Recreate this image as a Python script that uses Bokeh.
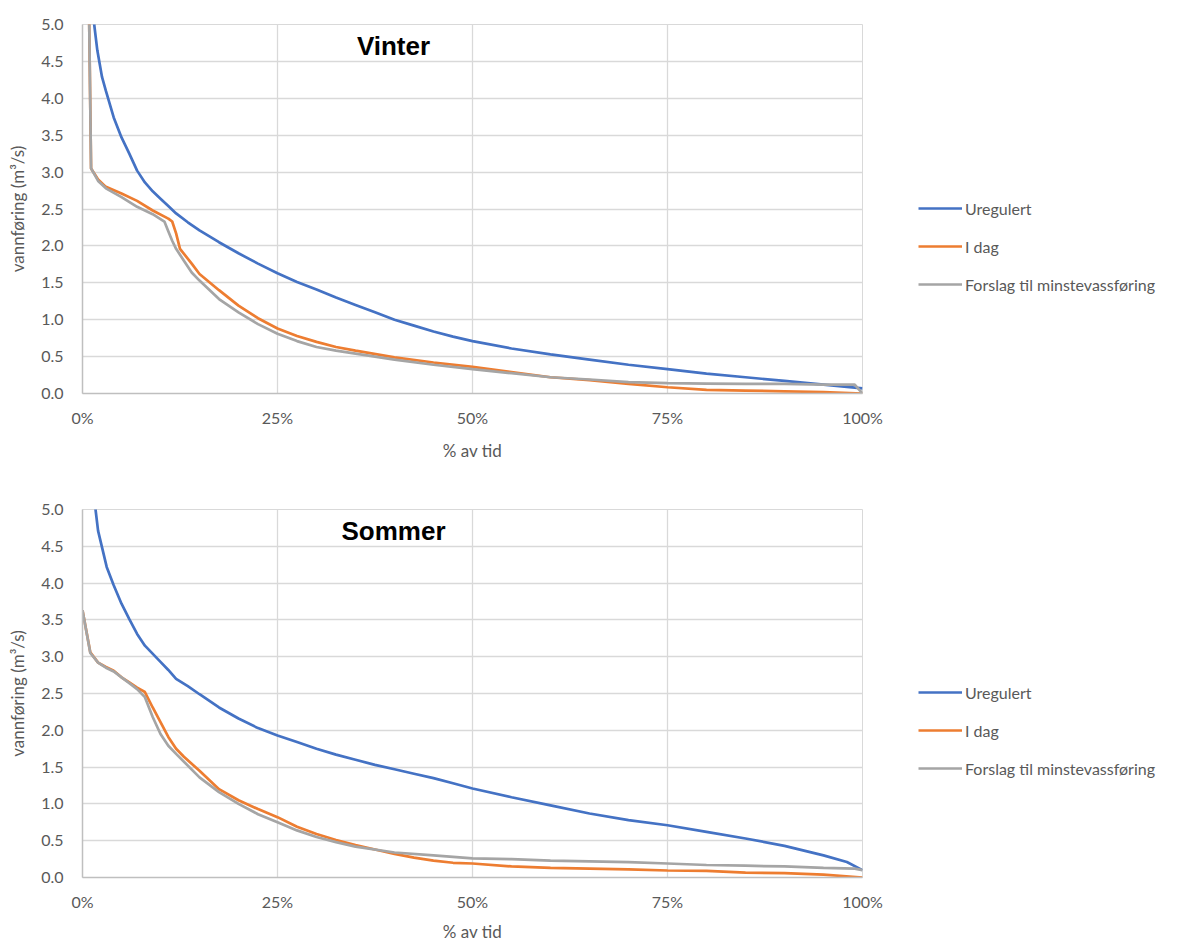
from bokeh.plotting import figure
from bokeh.layouts import column
from bokeh.models import (FixedTicker, PrintfTickFormatter, NumeralTickFormatter,
                          Range1d, Legend, LegendItem, Label)
from bokeh.embed import file_html
from bokeh.resources import INLINE

# ---------------- data (percent of time, m3/s) ----------------
# Vinter
vin_ureg_x = [0, 1.5, 1.9, 2.5, 3, 4, 5, 6, 7, 8, 9, 10, 11, 12, 13.5, 15, 17.5, 20, 22.5, 25,
              27.5, 30, 32.5, 35, 37.5, 40, 42.5, 45, 47.5, 50, 55, 60, 65, 70, 75, 80, 85, 90,
              95, 99, 100]
vin_ureg_y = [9.0, 5.0, 4.65, 4.29, 4.1, 3.74, 3.47, 3.25, 3.02, 2.86, 2.74, 2.64, 2.54, 2.44,
              2.32, 2.21, 2.05, 1.90, 1.76, 1.63, 1.51, 1.41, 1.30, 1.20, 1.10, 1.00, 0.92, 0.84,
              0.77, 0.71, 0.61, 0.53, 0.46, 0.39, 0.33, 0.27, 0.22, 0.17, 0.12, 0.08, 0.07]
vin_idag_x = [0, 0.8, 1.1, 2, 3, 5, 7, 9, 11, 11.5, 12, 12.5, 14, 15, 17.5, 20, 22.5, 25, 27.5,
              30, 32.5, 35, 40, 45, 50, 55, 60, 65, 70, 75, 80, 85, 90, 95, 100]
vin_idag_y = [12.0, 5.5, 3.05, 2.9, 2.8, 2.71, 2.61, 2.48, 2.37, 2.33, 2.17, 1.96, 1.76, 1.62,
              1.40, 1.19, 1.02, 0.88, 0.78, 0.70, 0.63, 0.58, 0.49, 0.42, 0.36, 0.29, 0.22, 0.18,
              0.13, 0.085, 0.05, 0.04, 0.03, 0.02, 0.0]
vin_fors_x = [0, 0.8, 1.1, 2, 3, 5, 7, 9, 10.5, 11, 11.5, 12, 13, 14, 15, 17.5, 20, 22.5, 25,
              27.5, 30, 32.5, 35, 40, 45, 50, 55, 60, 65, 70, 75, 80, 85, 90, 95, 99, 100]
vin_fors_y = [12.0, 5.5, 3.05, 2.88, 2.78, 2.66, 2.53, 2.43, 2.33, 2.2, 2.07, 1.96, 1.80, 1.64,
              1.53, 1.28, 1.10, 0.94, 0.81, 0.71, 0.63, 0.58, 0.54, 0.46, 0.39, 0.33, 0.275,
              0.22, 0.19, 0.155, 0.14, 0.135, 0.13, 0.13, 0.12, 0.12, 0.0]

# Sommer
som_ureg_x = [0, 1.67, 2.0, 3.1, 4, 5, 6, 7, 8, 10, 11, 12, 13.5, 15, 17.5, 20, 22.5, 25, 27.5,
              30, 32.5, 35, 37.5, 40, 42.5, 45, 47.5, 50, 55, 60, 65, 70, 75, 80, 85, 90, 95,
              98, 100]
som_ureg_y = [8.0, 5.0, 4.71, 4.22, 3.97, 3.72, 3.51, 3.31, 3.15, 2.93, 2.82, 2.70, 2.60, 2.49,
              2.31, 2.16, 2.03, 1.93, 1.84, 1.75, 1.67, 1.60, 1.53, 1.47, 1.41, 1.35, 1.28, 1.21,
              1.09, 0.98, 0.87, 0.78, 0.71, 0.62, 0.53, 0.43, 0.30, 0.21, 0.10]
som_idag_x = [0, 1, 2, 3, 4, 5, 6, 7, 8, 9, 10, 11, 12, 13, 15, 17.5, 20, 22.5, 25, 27.5, 30,
              32.5, 35, 37.5, 40, 42.5, 45, 47.5, 50, 55, 60, 65, 70, 75, 80, 85, 90, 95, 100]
som_idag_y = [3.63, 3.06, 2.92, 2.86, 2.81, 2.72, 2.65, 2.58, 2.52, 2.31, 2.11, 1.91, 1.75,
              1.64, 1.45, 1.20, 1.05, 0.93, 0.82, 0.69, 0.59, 0.51, 0.44, 0.38, 0.32, 0.27, 0.23,
              0.20, 0.19, 0.15, 0.13, 0.12, 0.11, 0.095, 0.09, 0.065, 0.06, 0.04, 0.0]
som_fors_x = [0, 1, 2, 3, 4, 5, 6, 7, 8, 9, 10, 11, 12, 15, 17.5, 20, 22.5, 25, 27.5, 30, 32.5,
              35, 40, 45, 50, 55, 60, 65, 70, 75, 80, 85, 90, 95, 99, 100]
som_fors_y = [3.63, 3.05, 2.92, 2.85, 2.80, 2.72, 2.64, 2.56, 2.45, 2.18, 1.95, 1.79, 1.68, 1.36,
              1.16, 1.00, 0.86, 0.75, 0.64, 0.55, 0.48, 0.42, 0.34, 0.30, 0.26, 0.25, 0.23, 0.22,
              0.21, 0.19, 0.17, 0.16, 0.15, 0.13, 0.12, 0.10]

series_names = ["Uregulert", "I dag", "Forslag til minstevassføring"]
colors = ["#4472C4", "#ED7D31", "#A5A5A5"]
x_ticks = [0, 25, 50, 75, 100]
y_ticks = [0.0, 0.5, 1.0, 1.5, 2.0, 2.5, 3.0, 3.5, 4.0, 4.5, 5.0]

FONT = "Lato"
TXT = "#595959"


def make_chart(title, series, top_border, bottom_border, frame_h, xlabel_standoff):
    p = figure(frame_width=780, frame_height=frame_h, output_backend="svg",
               toolbar_location=None, x_range=Range1d(0, 100), y_range=Range1d(0, 5),
               min_border_left=82, min_border_right=316, min_border_top=top_border,
               min_border_bottom=bottom_border, background_fill_color="white",
               border_fill_color="white", outline_line_color="#D9D9D9")
    renderers = []
    for (xs, ys), c in zip(series, colors):
        r = p.line(xs, ys, line_color=c, line_width=2.7)
        renderers.append(r)

    p.xaxis.ticker = FixedTicker(ticks=x_ticks)
    p.yaxis.ticker = FixedTicker(ticks=y_ticks)
    p.xaxis.formatter = PrintfTickFormatter(format="%d%%")
    p.yaxis.formatter = NumeralTickFormatter(format="0.0")
    p.xgrid.ticker = FixedTicker(ticks=x_ticks)
    p.ygrid.ticker = FixedTicker(ticks=y_ticks)
    p.grid.grid_line_color = "#D9D9D9"
    p.grid.grid_line_width = 1.3
    for ax in (p.xaxis, p.yaxis):
        ax.major_tick_line_color = None
        ax.minor_tick_line_color = None
        ax.major_tick_out = 0
        ax.major_tick_in = 0
        ax.axis_line_color = "#BFBFBF"
        ax.axis_line_width = 1.5
        ax.major_label_text_font = FONT
        ax.major_label_text_font_size = "16px"
        ax.major_label_text_color = TXT
        ax.axis_label_text_font = FONT
        ax.axis_label_text_font_size = "17px"
        ax.axis_label_text_font_style = "normal"
        ax.axis_label_text_color = TXT
    p.xaxis.axis_label = "% av tid"
    p.yaxis.axis_label = "vannføring (m³/s)"
    p.xaxis.major_label_standoff = 14
    p.xaxis.axis_label_standoff = xlabel_standoff
    p.yaxis.major_label_standoff = 19
    p.yaxis.axis_label_standoff = 10

    legend = Legend(items=[LegendItem(label=n, renderers=[r]) for n, r in zip(series_names, renderers)],
                    location=(56, 99), orientation="vertical", glyph_width=44, glyph_height=20,
                    label_height=20, spacing=18, padding=0, margin=0, label_standoff=3,
                    label_text_font=FONT, label_text_font_size="16px", label_text_color=TXT,
                    border_line_color=None, background_fill_alpha=0)
    p.add_layout(legend, "right")

    p.add_layout(Label(x=311, y=frame_h - 21, x_units="screen", y_units="screen", text=title,
                       text_font="Liberation Sans", text_font_style="bold", text_font_size="26px",
                       text_color="black", text_align="center", text_baseline="middle"))
    return p


p1 = make_chart("Vinter", [(vin_ureg_x, vin_ureg_y), (vin_idag_x, vin_idag_y),
                           (vin_fors_x, vin_fors_y)], 24, 80, 369, 10)
p2 = make_chart("Sommer", [(som_ureg_x, som_ureg_y), (som_idag_x, som_idag_y),
                           (som_fors_x, som_fors_y)], 36, 62, 368, 7)

layout = column(p1, p2, spacing=0)
open("out.html", "w").write(file_html(layout, INLINE))
